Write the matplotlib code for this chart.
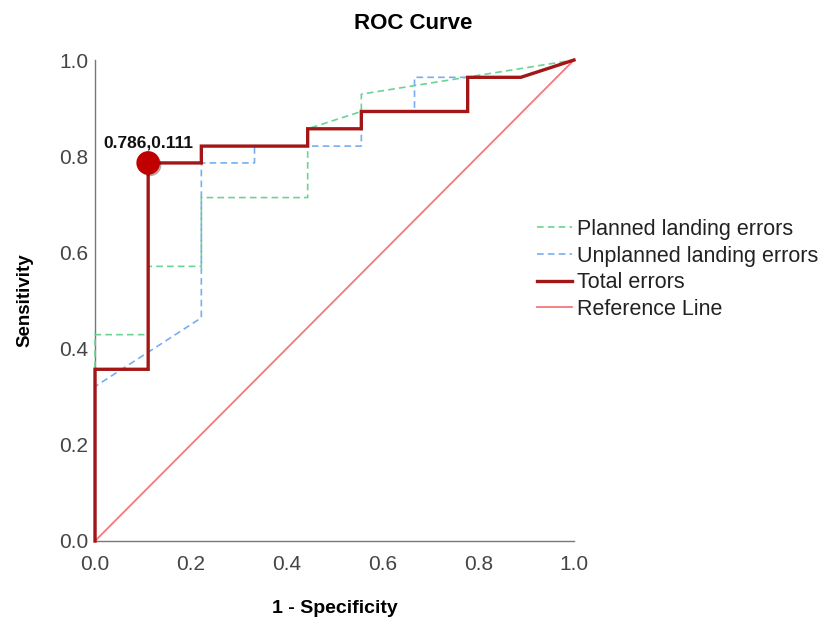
import matplotlib
matplotlib.use("Agg")
import matplotlib.pyplot as plt
import matplotlib.patheffects as pe

plt.rcParams['font.family'] = ['Liberation Sans', 'DejaVu Sans']

# Data (1 - specificity, sensitivity)
planned_x = [0.0, 0.0, 0.111, 0.111, 0.222, 0.222, 0.444, 0.444, 0.556, 0.556, 1.0]
planned_y = [0.0, 0.429, 0.429, 0.571, 0.571, 0.714, 0.714, 0.857, 0.893, 0.929, 1.0]

unplanned_x = [0.0, 0.0, 0.222, 0.222, 0.333, 0.333, 0.556, 0.556, 0.667, 0.667, 0.889, 1.0]
unplanned_y = [0.0, 0.321, 0.464, 0.786, 0.786, 0.821, 0.821, 0.893, 0.893, 0.964, 0.964, 1.0]

total_x = [0.0, 0.0, 0.111, 0.111, 0.222, 0.222, 0.444, 0.444, 0.556, 0.556, 0.778, 0.778, 0.889, 1.0]
total_y = [0.0, 0.357, 0.357, 0.786, 0.786, 0.821, 0.821, 0.857, 0.857, 0.893, 0.893, 0.964, 0.964, 1.0]

ref_x = [0.0, 1.0]
ref_y = [0.0, 1.0]

cut_x = 0.111
cut_y = 0.786
cut_label = "0.786,0.111"

ticks = [0.0, 0.2, 0.4, 0.6, 0.8, 1.0]

fig = plt.figure(figsize=(8.26, 6.19), dpi=100)
ax = fig.add_axes([95/826, 1 - 541/619, 479/826, 481/619])

ax.plot(planned_x, planned_y, color='#6cd394', lw=1.2, ls=(0, (4, 2.5)),
        label='Planned landing errors', clip_on=False, zorder=3)
ax.plot(unplanned_x, unplanned_y, color='#78aef0', lw=1.2, ls=(0, (4, 2.5)),
        label='Unplanned landing errors', clip_on=False, zorder=3)
ax.plot(total_x, total_y, color='#a31616', lw=2.4, label='Total errors',
        clip_on=False, zorder=4, solid_joinstyle='miter')
ax.plot(ref_x, ref_y, color='#f27a7a', lw=1.3, label='Reference Line',
        clip_on=False, zorder=2)

ax.plot([cut_x], [cut_y], 'o', color='#c00000', markersize=16, zorder=6,
        clip_on=False,
        path_effects=[pe.SimplePatchShadow(offset=(1.5, -1.5), alpha=0.35), pe.Normal()])
ax.text(cut_x, cut_y + 0.025, cut_label, ha='center', va='bottom',
        fontsize=12.5, fontweight='bold', color='#111111', zorder=7)

ax.set_xlim(0, 1)
ax.set_ylim(0, 1)
ax.set_xticks(ticks)
ax.set_yticks(ticks)
ax.set_xticklabels([f"{t:.1f}" for t in ticks])
ax.set_yticklabels([f"{t:.1f}" for t in ticks])
ax.tick_params(length=0, labelsize=15, colors='#444444')
ax.tick_params(axis='x', pad=10)
ax.tick_params(axis='y', pad=5)
for s in ['top', 'right']:
    ax.spines[s].set_visible(False)
for s in ['left', 'bottom']:
    ax.spines[s].set_color('#777777')
    ax.spines[s].set_linewidth(1.0)

ax.set_xlabel('1 - Specificity', fontsize=14, fontweight='bold', labelpad=19)
ax.set_ylabel('Sensitivity', fontsize=13.5, fontweight='bold', labelpad=18)
fig.suptitle('ROC Curve', x=0.5, y=1 - 13/619, fontsize=16, fontweight='bold', va='top')

leg = fig.legend(loc='upper left', bbox_to_anchor=(537/826, 1 - 219/619), frameon=False,
                 fontsize=15.5, handlelength=1.63, handletextpad=0.23,
                 labelspacing=0.26, borderpad=0, borderaxespad=0)
for t in leg.get_texts():
    t.set_color('#222222')

fig.savefig('out.png', dpi=100)
